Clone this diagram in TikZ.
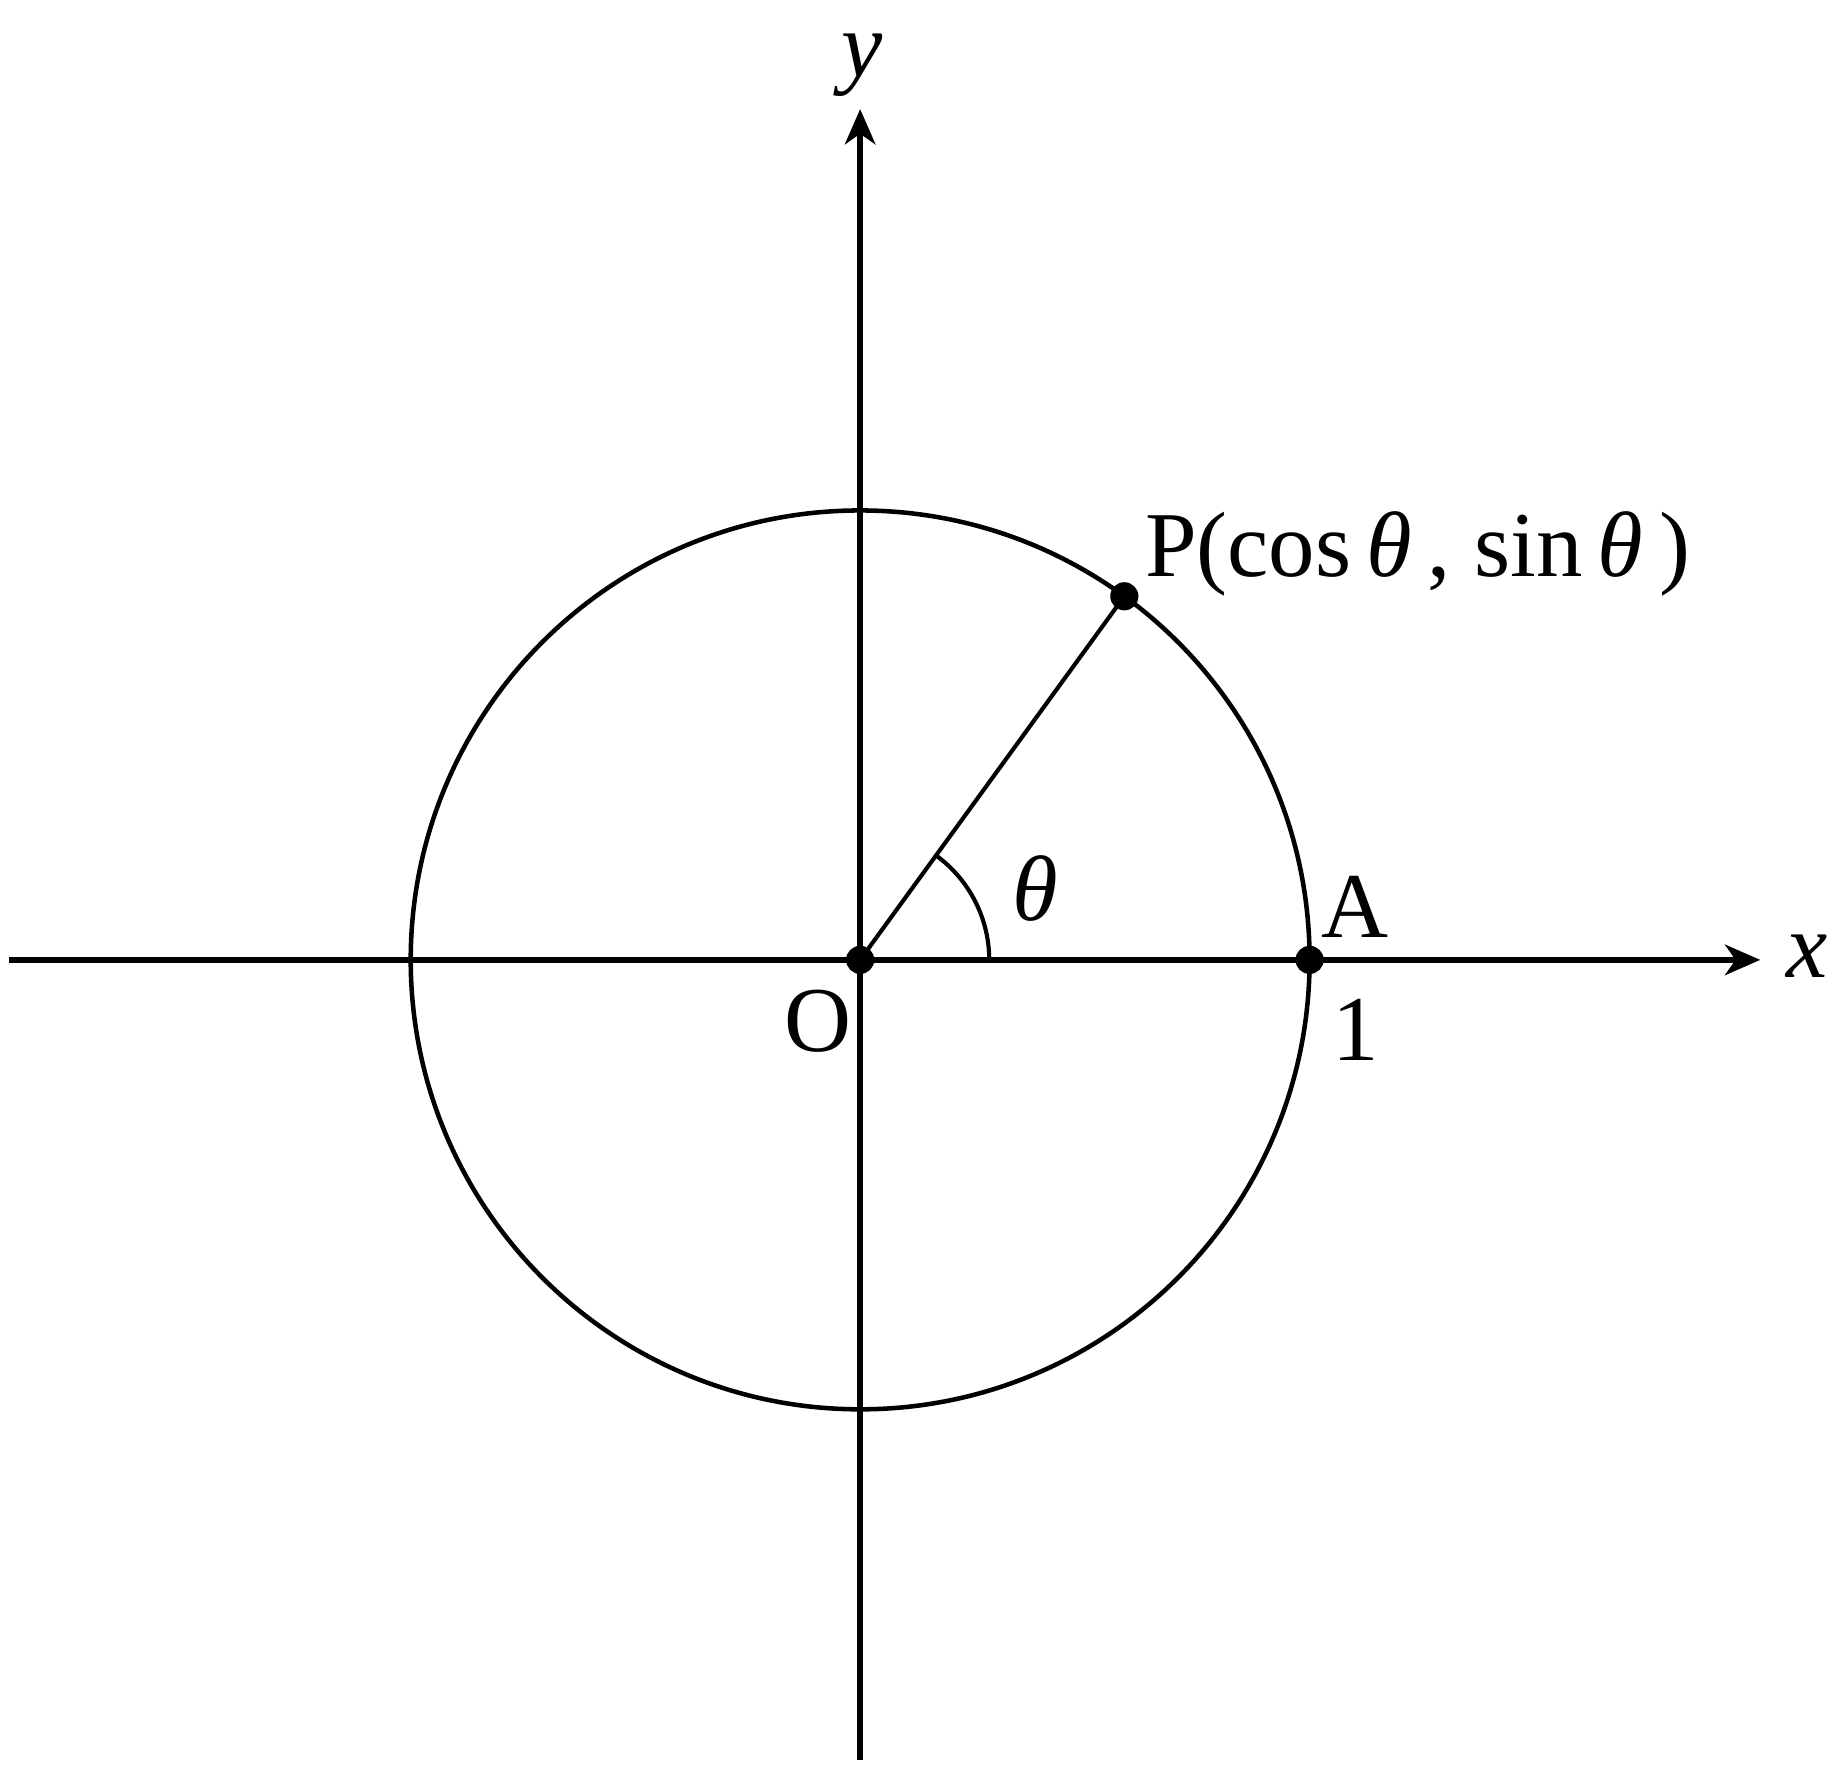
\documentclass[tikz,border=0pt]{standalone}
\usepackage{fontspec}
\setmainfont{Liberation Serif}
\usetikzlibrary{calc, positioning, arrows.meta}
\def\radius{3.83}
\def\anglevalue{54}
\def\arcradius{1.1}
\def\dotradius{0.12}
\def\labelsize{22.5}
\tikzset{
	% labels
	point_label/.style={
		font=\fontsize{\labelsize}{26}\selectfont,
		inner sep=0pt,
	},
	% axes
	axis/.style={
		line width=1.3pt,
		-{Stealth[length=0.3cm, width=0.26cm, inset=0.09cm]},
	},
	% circle
	unit_circle/.style={
		line width=1.1pt,
	},
	% radius and angle
	ray/.style={
		line width=1pt,
	},
	angle_arc/.style={
		line width=1pt,
	},
	% points
	dot/.style={
		fill=black,
	},
}
\begin{document}
\begin{tikzpicture}
		\useasboundingbox (-7.33,-6.90) rectangle (8.35,8.18);

		% Points
		\coordinate (O) at (0,0);
		\coordinate (A) at (\radius,0);
		\coordinate (P) at (\anglevalue:\radius);
		\coordinate (x_start) at (-7.25,0);
		\coordinate (x_end) at (7.67,0);
		\coordinate (y_start) at (0,-6.82);
		\coordinate (y_end) at (0,7.25);

		% Axes
		\draw[axis] (x_start) -- (x_end);
		\draw[axis] (y_start) -- (y_end);

		% Unit circle
		\draw[unit_circle] (O) circle[radius=\radius];

		% Radius OP and angle
		\draw[ray] (O) -- (P);
		\draw[angle_arc] ($(O)+(\arcradius,0)$) arc[start angle=0, end angle=\anglevalue, radius=\arcradius];

		% Dots
		\foreach \p in {O, A, P} {
			\fill[dot] (\p) circle[radius=\dotradius];
		}

		% Labels
		\node[point_label] (x_label) at ($(x_end)+(0.4,0.03)$) {\textit{x}};
		\node[point_label] (y_label) at ($(y_end)+(0.02,0.37)$) {\textit{y}};
		\node[point_label] (O_label) at ($(O)+(-0.36,-0.52)$) {O};
		\node[point_label] (A_label) at ($(A)+(0.39,0.45)$) {A};
		\node[point_label] (one_label) at ($(A)+(0.39,-0.60)$) {1};
		\node[point_label] (theta_label) at ($(O)+(1.49,0.61)$) {\textit{θ}};
		\node[
			point_label,
			anchor=base west,
		] (P_label) at ($(P)+(0.17,0.17)$) {P(cos\,\textit{θ}\,, sin\,\textit{θ}\,)};
	\end{tikzpicture}
\end{document}
